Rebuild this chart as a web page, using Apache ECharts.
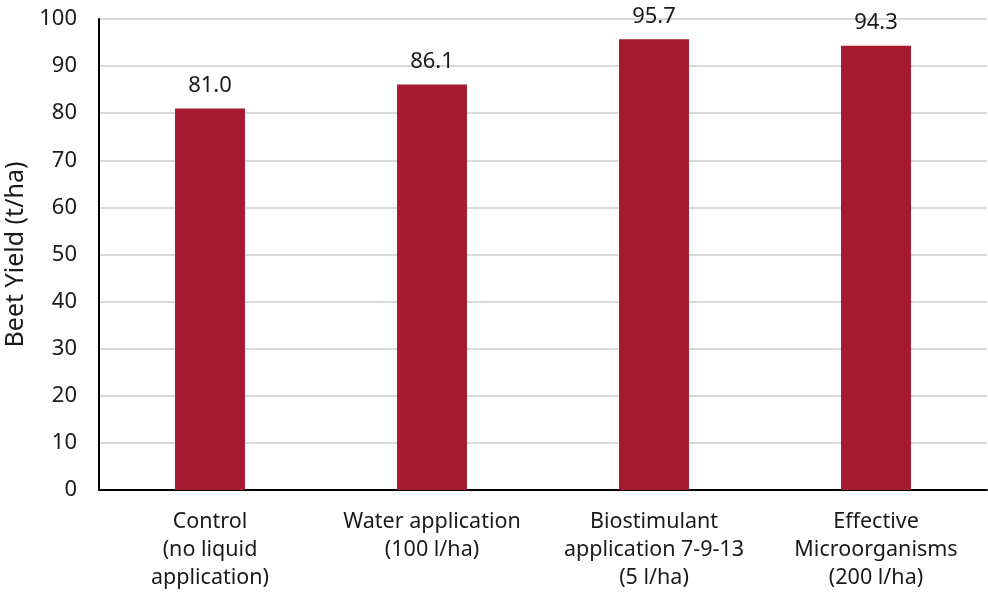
<!DOCTYPE html>
<html>
<head>
<meta charset="utf-8">
<script src="https://cdn.jsdelivr.net/npm/echarts@6/dist/echarts.min.js"></script>
<style>
  html, body { margin: 0; padding: 0; background: #fff; }
  #chart { width: 988px; height: 594px; }
</style>
</head>
<body>
<div id="chart"></div>
<script>
// Treatments and measured beet yield (t/ha)
const categories = [
  'Control\n(no liquid\napplication)',
  'Water application\n(100 l/ha)',
  'Biostimulant\napplication 7-9-13\n(5 l/ha)',
  'Effective\nMicroorganisms\n(200 l/ha)'
];
const yieldValues = [81.0, 86.1, 95.7, 94.3];
const yTicks = { min: 0, max: 100, interval: 10 };

const fontFamily = '"Noto Sans", "Open Sans", sans-serif';
const textColor = '#1a1a1a';
const chart = echarts.init(document.getElementById('chart'), null, { renderer: 'canvas' });

chart.setOption({
  animation: false,
  grid: { left: 99, right: 1, top: 19, bottom: 104, containLabel: false, outerBoundsMode: 'none' },
  xAxis: {
    type: 'category',
    data: categories,
    axisLine: { show: true, lineStyle: { color: '#000', width: 2 } },
    axisTick: { show: false },
    axisLabel: {
      color: textColor, fontSize: 21.5, fontFamily: fontFamily,
      lineHeight: 28, margin: 18, interval: 0
    }
  },
  yAxis: {
    type: 'value',
    min: yTicks.min, max: yTicks.max, interval: yTicks.interval,
    name: 'Beet Yield (t/ha)',
    nameLocation: 'middle',
    nameGap: 70,
    nameTextStyle: { color: textColor, fontSize: 25, fontFamily: fontFamily },
    axisLine: { show: true, lineStyle: { color: '#000', width: 2 } },
    axisTick: { show: false },
    axisLabel: { color: textColor, fontSize: 22, fontFamily: fontFamily, margin: 22 },
    splitLine: { show: true, lineStyle: { color: '#d9d9d9', width: 2 } }
  },
  series: [{
    type: 'bar',
    data: yieldValues,
    barWidth: '31.5%',
    itemStyle: { color: '#A51A30' },
    label: {
      show: true, position: 'top', distance: 12,
      color: textColor, fontSize: 22, fontFamily: fontFamily,
      formatter: p => p.value.toFixed(1)
    }
  }]
});
</script>
</body>
</html>
